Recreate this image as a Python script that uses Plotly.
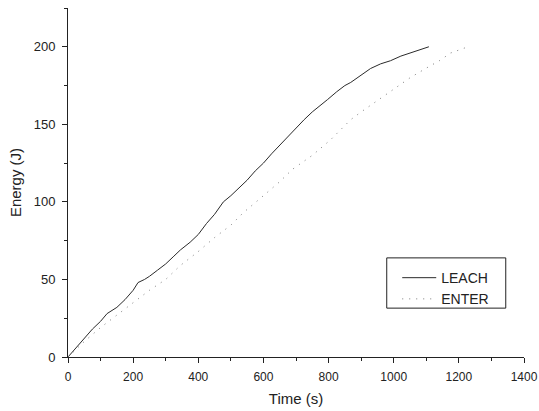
import plotly.graph_objects as go

leach_t = [0, 25, 50, 75, 100, 120, 150, 175, 200, 215, 235, 250, 275, 300, 325, 345, 375, 400, 425, 450, 477,
           500, 525, 550, 575, 600, 625, 652, 675, 700, 725, 750, 775, 797, 825, 850, 868, 900, 929, 960,
           990, 1022, 1050, 1080, 1108]
leach_e = [0, 6, 12, 18, 23, 28, 32, 37, 43, 48, 50, 52, 56, 60, 65, 69, 74, 79, 86, 92, 100,
           104, 109, 114, 120, 125, 131, 137, 142, 148, 153, 158, 162, 166, 171, 175, 177, 182, 186, 189,
           191, 194, 196, 198, 200]

enter_t = [0, 50, 100, 150, 200, 250, 300, 345, 400, 450, 500, 538, 600, 650, 689, 750, 806, 868, 900,
           954, 1000, 1050, 1098, 1140, 1175, 1228]
enter_e = [0, 10, 19, 27, 35, 43, 50, 59, 68, 77, 85, 93, 104, 113, 121, 130, 140, 153, 158,
           166, 173, 180, 186, 191, 196, 200]

x_ticks = [0, 200, 400, 600, 800, 1000, 1200, 1400]
y_ticks = [0, 50, 100, 150, 200]

FONT = "Liberation Sans, Arial"

fig = go.Figure()
fig.add_trace(go.Scatter(x=leach_t, y=leach_e, mode="lines", name="LEACH",
                         line=dict(color="#2a2a2a", width=1)))
fig.add_trace(go.Scatter(x=enter_t, y=enter_e, mode="lines", name="ENTER",
                         line=dict(color="#7a7a7a", width=1, dash="1px,6px")))

axis_common = dict(showline=True, linecolor="#222", linewidth=1, ticks="outside", ticklen=5,
                   tickwidth=1, tickcolor="#222", showgrid=False, zeroline=False, automargin=False,
                   title_font=dict(family=FONT, size=15, color="#222"))

fig.update_xaxes(range=[0, 1400], tickvals=x_ticks, title_text="Time (s)", title_standoff=10,
                 ticklabelstandoff=4,
                 tickfont=dict(family=FONT, size=12, color="#222"),
                 minor=dict(ticks="outside", ticklen=3, dtick=100, tickcolor="#222"), **axis_common)
fig.update_yaxes(range=[0, 225], tickvals=y_ticks, title_text="Energy (J)", title_standoff=8,
                 ticklabelstandoff=4,
                 tickfont=dict(family=FONT, size=13, color="#222"),
                 minor=dict(ticks="outside", ticklen=3, dtick=25, tickcolor="#222"), **axis_common)

fig.add_shape(type="rect", xref="paper", yref="paper", x0=0.699, x1=0.96, y0=0.14, y1=0.284,
              line=dict(color="#222", width=1), fillcolor="rgba(0,0,0,0)")

fig.update_layout(
    width=539, height=411,
    margin=dict(l=68, r=15, t=8, b=54),
    plot_bgcolor="white", paper_bgcolor="white",
    legend=dict(x=0.722, y=0.272, xanchor="left", yanchor="top", bgcolor="rgba(0,0,0,0)",
                borderwidth=0, font=dict(family=FONT, size=14, color="#222"),
                tracegroupgap=0, itemwidth=34),
    showlegend=True,
)

fig.write_html("out.html", config={"displayModeBar": False},
               post_script="document.body.style.margin='0';document.body.style.overflow='hidden';")
